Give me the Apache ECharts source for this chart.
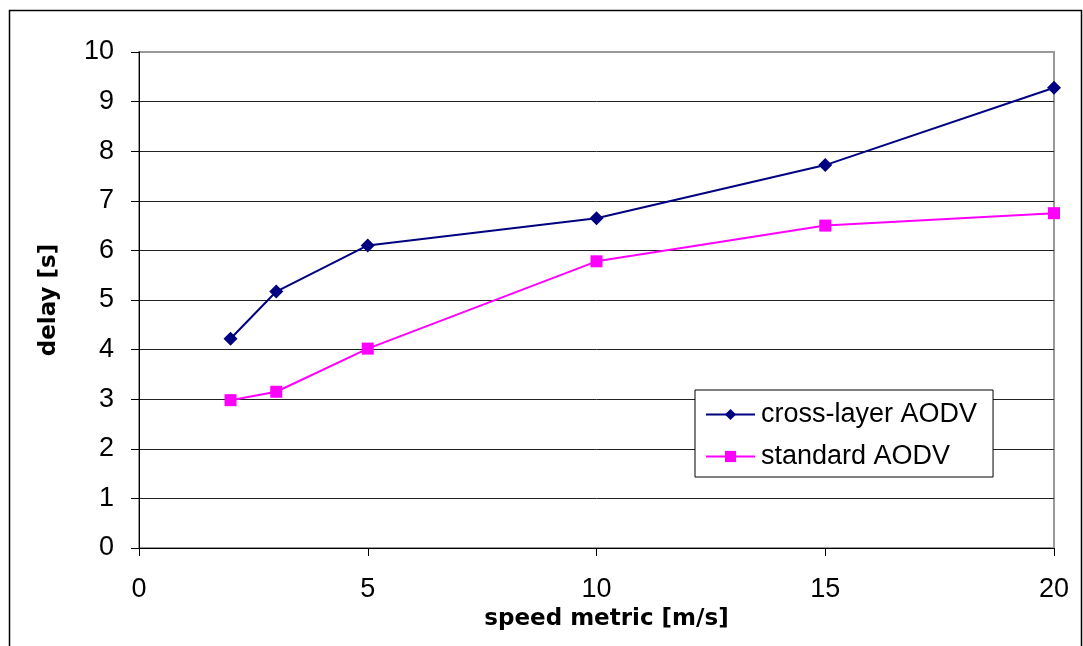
<!DOCTYPE html>
<html>
<head>
<meta charset="utf-8">
<script src="https://cdn.jsdelivr.net/npm/echarts@6/dist/echarts.min.js"></script>
<style>
  html, body { margin: 0; padding: 0; background: #fff; }
  #chart { width: 1083px; height: 646px; }
</style>
</head>
<body>
<div id="chart"></div>
<script>
// Mean delay vs. node speed for two AODV variants
const speeds = [2, 3, 5, 10, 15, 20];
const crossLayerDelay = [4.22, 5.17, 6.10, 6.65, 7.72, 9.28];
const standardDelay = [2.98, 3.15, 4.02, 5.78, 6.50, 6.75];
const seriesNames = ['cross-layer AODV', 'standard AODV'];

const FONT = '"Liberation Sans", Arial, sans-serif';
const TITLE_FONT = '"DejaVu Sans", sans-serif';

const toPairs = (xs, ys) => xs.map((x, i) => [x, ys[i]]);

// horizontal gridlines 0..10; the topmost one doubles as the grey plot border
const gridColors = Array.from({ length: 11 }, (_, i) => (i === 10 ? '#999' : '#222'));

const chart = echarts.init(document.getElementById('chart'));
chart.setOption({
  animation: false,
  backgroundColor: '#fff',
  textStyle: { fontFamily: FONT },
  graphic: [{
    type: 'rect',
    shape: { x: 9.5, y: 10.5, width: 1072, height: 700 },
    style: { fill: 'none', stroke: '#000', lineWidth: 1.5 },
    silent: true, z: -1
  }],
  grid: {
    left: 139, right: 29, top: 52, bottom: 98,
    show: true, borderColor: '#999', borderWidth: 2, backgroundColor: 'transparent'
  },
  xAxis: {
    type: 'value', min: 0, max: 20, interval: 5,
    name: 'speed metric [m/s]', nameLocation: 'middle', nameGap: 54,
    nameTextStyle: {
      fontFamily: TITLE_FONT, fontSize: 23, fontWeight: 'bold', color: '#000',
      padding: [0, 0, 0, 20]
    },
    axisLine: { show: true, onZero: false, lineStyle: { color: '#000', width: 1 } },
    axisTick: { show: true, length: 8, lineStyle: { color: '#000' } },
    axisLabel: { fontFamily: FONT, fontSize: 27, color: '#000', margin: 28 },
    splitLine: { show: false }
  },
  yAxis: {
    type: 'value', min: 0, max: 10, interval: 1,
    name: 'delay [s]', nameLocation: 'middle', nameGap: 78,
    nameTextStyle: { fontFamily: TITLE_FONT, fontSize: 23, fontWeight: 'bold', color: '#000' },
    axisLine: { show: true, lineStyle: { color: '#000', width: 1 } },
    axisTick: { show: true, length: 8, lineStyle: { color: '#000' } },
    axisLabel: { fontFamily: FONT, fontSize: 27, color: '#000', margin: 25 },
    splitLine: { show: true, lineStyle: { color: gridColors, width: 1 } }
  },
  legend: {
    orient: 'vertical',
    left: 695, top: 390,
    padding: [11, 16, 7, 10],
    itemWidth: 49, itemHeight: 14, itemGap: 15,
    backgroundColor: '#fff',
    borderColor: '#000', borderWidth: 1,
    textStyle: { fontFamily: FONT, fontSize: 27, color: '#000', padding: [0, 0, 0, 1] },
    data: seriesNames
  },
  series: [
    {
      name: seriesNames[0], type: 'line',
      data: toPairs(speeds, crossLayerDelay),
      symbol: 'diamond', symbolSize: 14,
      lineStyle: { color: '#000080', width: 2 },
      itemStyle: { color: '#000080' }
    },
    {
      name: seriesNames[1], type: 'line',
      data: toPairs(speeds, standardDelay),
      symbol: 'rect', symbolSize: 12,
      lineStyle: { color: '#FF00FF', width: 2 },
      itemStyle: { color: '#FF00FF' }
    }
  ]
});
</script>
</body>
</html>
